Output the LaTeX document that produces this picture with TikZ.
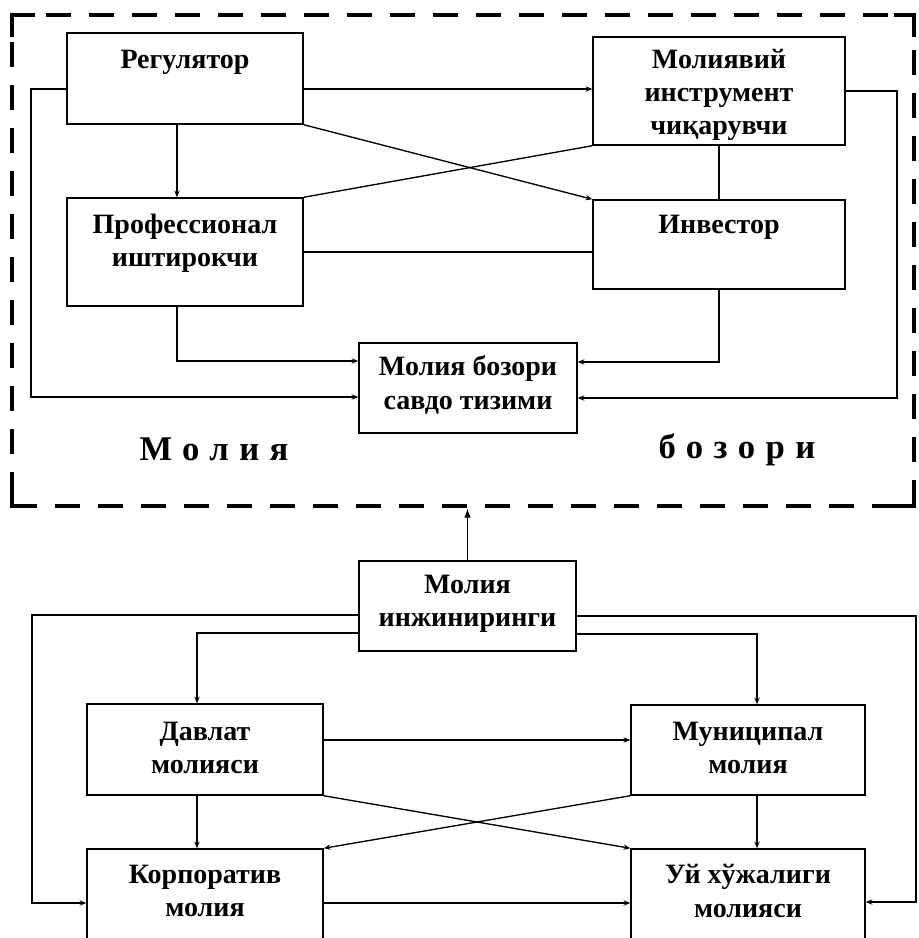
\documentclass[tikz,border=0pt]{standalone}
\usepackage{fontspec}
\setmainfont{Liberation Serif}
\usetikzlibrary{arrows.meta}
\begin{document}
\begin{tikzpicture}[x=0.75pt,y=-0.75pt,
  box/.style 2 args={draw, line width=1.1pt, rectangle,
    minimum width=#1*0.75pt, minimum height=#2*0.75pt, inner sep=0pt},
  lbl/.style={align=center, inner sep=0pt,
    font=\bfseries\fontsize{21}{25}\selectfont},
  biglbl/.style={inner sep=0pt,
    font=\bfseries\fontsize{26}{30}\selectfont\addfontfeature{LetterSpace=30}},
  wire/.style={line width=1pt, line join=miter},
  arr/.style={wire, -{Stealth[length=5pt,width=4pt]}},
  framebox/.style={draw, rectangle, line width=3.6pt,
    dash pattern=on 18.75pt off 13.5pt,
    minimum width=#1*0.75pt, minimum height=491*0.75pt, inner sep=0pt},
  corner/.style={line width=3.6pt, line cap=butt}
]
\path[use as bounding box, clip] (0,0) rectangle (919,938);

% ---------- financial market (upper block) ----------
\node[framebox=902] (market) at (463,260.5) {};
\draw[corner] (12,37) -- (12,15) -- (35,15);
\draw[corner] (894,15) -- (914,15) -- (914,37);
\draw[corner] (12,484) -- (12,506) -- (37,506);
\draw[corner] (894,506) -- (914,506) -- (914,484);

\node[box={236}{91}]  (reg)   at (185,78.5) {};
\node[box={236}{108}] (prof)  at (185,252)  {};
\node[box={252}{108}] (mol)   at (719,91)   {};
\node[box={252}{89}]  (inv)   at (719,244.5) {};
\node[box={218}{90}]  (bozor) at (468,388)  {};

\node[lbl] (reg-t)   at (185,62)  {Регулятор};
\node[lbl] (prof-t)  at (185,243) {Профессионал\\иштирокчи};
\node[lbl] (mol-t)   at (719,95)  {Молиявий\\инструмент\\чиқарувчи};
\node[lbl] (inv-t)   at (719,227) {Инвестор};
\node[lbl] (bozor-t) at (468,385) {Молия бозори\\савдо тизими};

\node[biglbl] (m1) at (214,449) {Молия};
\node[biglbl] (m2) at (737,450) {бозори};

\draw[arr] (reg.west |- 0,89) -- (31,89) -- (31,397) -- (bozor.west |- 0,397);
\draw[arr] (reg.east |- 0,89) -- (mol.west |- 0,89);
\draw[arr] (reg.south -| 177,0) -- (prof.north -| 177,0);
\draw[arr] (reg.south east) -- (inv.north west);
\draw[wire] (prof.north east) -- (mol.south west);
\draw[wire] (prof.east |- 0,252) -- (inv.west |- 0,252);
\draw[wire] (mol.south) -- (inv.north);
\draw[arr] (mol.east |- 0,91) -- (897,91) -- (897,398) -- (bozor.east |- 0,398);
\draw[arr] (prof.south -| 177,0) -- (177,361) -- (bozor.west |- 0,361);
\draw[arr] (inv.south) -- (719,362) -- (bozor.east |- 0,362);

% ---------- financial engineering (lower block) ----------
\node[box={217}{90}]  (inzh) at (467.5,606) {};
\node[box={236}{91}]  (dav)  at (205,749.5) {};
\node[box={234}{90}]  (mun)  at (748,750)   {};
\node[box={236}{111}] (korp) at (205,904.5) {};
\node[box={234}{111}] (uy)   at (748,904.5) {};

\node[lbl] (inzh-t) at (467.5,604) {Молия\\инжиниринги};
\node[lbl] (dav-t)  at (205,748)  {Давлат\\молияси};
\node[lbl] (mun-t)  at (748,748)  {Муниципал\\молия};
\node[lbl] (korp-t) at (205,891)  {Корпоратив\\молия};
\node[lbl] (uy-t)   at (748,891)  {Уй хўжалиги\\молияси};

\draw[wire, -{Latex[length=7pt,width=5pt]}] (inzh.north) -- (inzh.north |- market.south);

\draw[arr] (inzh.west |- 0,615) -- (32,615) -- (32,903) -- (korp.west |- 0,903);
\draw[arr] (inzh.west |- 0,633) -- (197,633) -- (dav.north -| 197,0);
\draw[arr] (dav.south -| 197,0) -- (korp.north -| 197,0);
\draw[arr] (dav.east |- 0,740) -- (mun.west |- 0,740);
\draw[arr] (dav.south east) -- (uy.north west);
\draw[arr] (mun.south west) -- (korp.north east);
\draw[arr] (korp.east |- 0,903) -- (uy.west |- 0,903);
\draw[arr] (inzh.east |- 0,616) -- (916,616) -- (916,902) -- (uy.east |- 0,902);
\draw[arr] (inzh.east |- 0,634) -- (757,634) -- (mun.north -| 757,0);
\draw[arr] (mun.south -| 757,0) -- (uy.north -| 757,0);
\end{tikzpicture}
\end{document}
